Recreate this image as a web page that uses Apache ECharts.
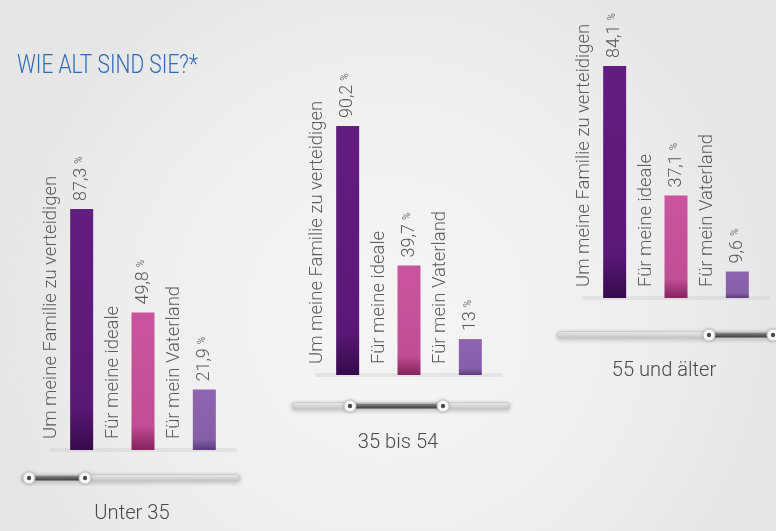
<!DOCTYPE html>
<html>
<head>
<meta charset="utf-8">
<script src="https://cdn.jsdelivr.net/npm/echarts@6/dist/echarts.min.js"></script>
<style>
  html, body { margin: 0; padding: 0; background: #ececec; }
  #chart { width: 776px; height: 531px; }
</style>
</head>
<body>
<div id="chart"></div>
<script>
// Survey: reasons to take up arms, split by age group (values in %)
const ageGroups = ['Unter 35', '35 bis 54', '55 und älter'];
const reasons = ['Um meine Familie zu verteidigen', 'Für meine ideale', 'Für mein Vaterland'];
const under35 = [87.3, 49.8, 21.9];
const from35to54 = [90.2, 39.7, 13];
const from55 = [84.1, 37.1, 9.6];
const groupValues = [under35, from35to54, from55];

// Visual styling
const barColors = [
  ['#621d80', '#5a1876', '#36094a'],
  ['#ca559e', '#c04e95', '#86235c'],
  ['#8d64b0', '#8560a9', '#5a3a7c']
];
const labelFont = 'Roboto';
const textGray = '#5a5a5a';

// Plot boxes for the three age groups (staggered layout)
const boxes = [
  { left: 51, top: 174 },
  { left: 317, top: 99 },
  { left: 584, top: 22 }
];
const boxWidth = 184, boxHeight = 276;

// Slider decorations under each group: track span, y, selected range
const sliders = [
  { x0: 22, x1: 240, y: 478, h0: 29, h1: 85 },
  { x0: 292, x1: 510, y: 406, h0: 350, h1: 443 },
  { x0: 557, x1: 800, y: 335, h0: 709, h1: 773 }
];
const groupLabelPos = [[132, 514], [398, 443], [664, 371]];

function fmt(v) { return String(v).replace('.', ','); }

function barGradient(j) {
  const c = barColors[j];
  return new echarts.graphic.LinearGradient(0, 0, 0, 1, [
    { offset: 0, color: c[0] },
    { offset: 0.82, color: c[1] },
    { offset: 1, color: c[2] }
  ]);
}

const grid = [], xAxis = [], yAxis = [], series = [];
groupValues.forEach((values, i) => {
  grid.push({ left: boxes[i].left, top: boxes[i].top, width: boxWidth, height: boxHeight });
  xAxis.push({
    type: 'category', gridIndex: i, data: reasons,
    axisLine: { show: true, lineStyle: { color: 'rgba(200,200,200,0.35)', width: 4 } },
    axisTick: { show: false }, axisLabel: { show: false }
  });
  yAxis.push({ type: 'value', gridIndex: i, min: 0, max: 100, show: false, splitLine: { show: false } });
  series.push({
    type: 'bar', xAxisIndex: i, yAxisIndex: i, barWidth: 23, silent: true,
    data: values.map((v, j) => ({ value: v, itemStyle: { color: barGradient(j) } })),
    label: {
      show: true, position: 'top', distance: 8, rotate: 90,
      align: 'left', verticalAlign: 'middle',
      formatter: p => '{v|' + fmt(p.value) + '}{p|%}',
      rich: {
        v: { fontFamily: labelFont, fontWeight: 300, fontSize: 18, color: textGray },
        p: { fontFamily: labelFont, fontSize: 10, color: '#777', padding: [0, 0, 4, 4] }
      }
    }
  });
  // invisible twin bars carrying the reason captions beside each bar
  series.push({
    type: 'bar', xAxisIndex: i, yAxisIndex: i, barWidth: 23, barGap: '-100%', silent: true,
    data: values,
    itemStyle: { color: 'rgba(0,0,0,0)' },
    label: {
      show: true, position: ['-80%', '100%'], rotate: 90,
      align: 'left', verticalAlign: 'middle', padding: [0, 0, 0, 11],
      formatter: '{b}',
      fontFamily: labelFont, fontWeight: 300, fontSize: 18.5, color: textGray
    }
  });
});

const graphic = [];
graphic.push({
  type: 'text', x: 17, y: 54, scaleX: 0.84, silent: true,
  style: { text: 'WIE ALT SIND SIE?*', fill: '#2e6cb4', font: '300 25px Roboto', textVerticalAlign: 'top' }
});
sliders.forEach((s, i) => {
  graphic.push({
    type: 'rect', silent: true,
    shape: { x: s.x0, y: s.y - 3.5, width: s.x1 - s.x0, height: 7, r: 3.5 },
    style: {
      fill: new echarts.graphic.LinearGradient(0, 0, 0, 1, [
        { offset: 0, color: '#f4f4f4' }, { offset: 0.5, color: '#dcdcdc' }, { offset: 1, color: '#c0c0c0' }
      ]),
      stroke: '#cbcbcb', lineWidth: 1,
      shadowBlur: 4, shadowColor: 'rgba(0,0,0,0.18)', shadowOffsetY: 1
    }
  });
  graphic.push({
    type: 'rect', silent: true,
    shape: { x: s.h0, y: s.y - 2.5, width: s.h1 - s.h0, height: 5 },
    style: {
      fill: new echarts.graphic.LinearGradient(0, 0, 0, 1, [
        { offset: 0, color: '#8a8a8a' }, { offset: 1, color: '#3c3c3c' }
      ])
    }
  });
  [s.h0, s.h1].forEach(hx => {
    graphic.push({
      type: 'circle', silent: true, shape: { cx: hx, cy: s.y, r: 6 },
      style: { fill: '#fbfbfb', stroke: '#c9c9c9', lineWidth: 1, shadowBlur: 3, shadowColor: 'rgba(0,0,0,0.2)' }
    });
    graphic.push({
      type: 'circle', silent: true, shape: { cx: hx, cy: s.y, r: 2.2 },
      style: { fill: '#4a4a4a' }
    });
  });
  graphic.push({
    type: 'text', x: groupLabelPos[i][0], y: groupLabelPos[i][1], scaleX: 0.96, silent: true,
    style: {
      text: ageGroups[i], fill: '#4a4a4a', font: '300 21px Roboto',
      textAlign: 'center', textVerticalAlign: 'middle'
    }
  });
});

const chart = echarts.init(document.getElementById('chart'), null, { renderer: 'canvas' });
chart.setOption({
  backgroundColor: new echarts.graphic.RadialGradient(0.5, 0.6, 0.75, [
    { offset: 0, color: '#f5f5f5' },
    { offset: 0.6, color: '#efefef' },
    { offset: 1, color: '#e6e6e6' }
  ]),
  animation: false,
  grid, xAxis, yAxis, series, graphic
});
</script>
</body>
</html>
